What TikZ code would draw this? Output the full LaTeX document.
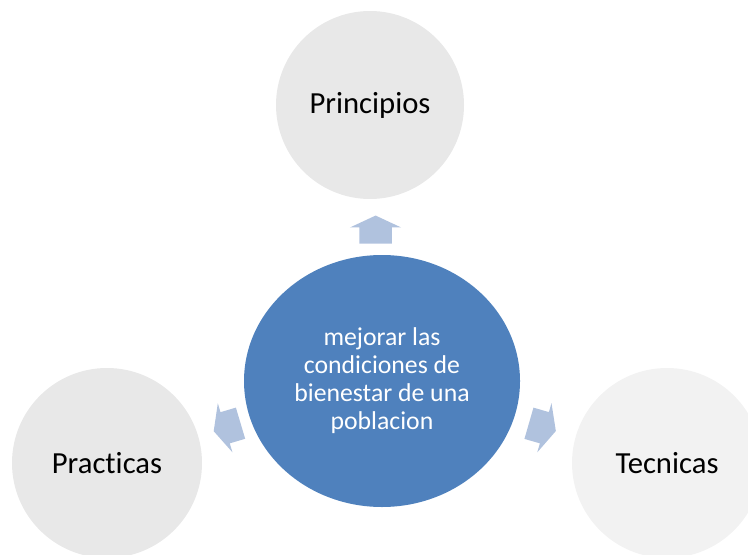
\documentclass[tikz,border=0pt]{standalone}
\usepackage{fontspec}
\setmainfont[Ligatures=NoCommon]{Carlito}
\usepackage{xcolor}
\usetikzlibrary{calc,shapes.arrows,shapes.geometric}

\definecolor{azulcentro}{HTML}{4F81BD}
\definecolor{grisclaro}{HTML}{E8E8E8}
\definecolor{grismuyclaro}{HTML}{F2F2F2}
\definecolor{azulflecha}{HTML}{B0C2DE}

\begin{document}
\begin{tikzpicture}[x=0.75pt,y=0.75pt,
  bola/.style={circle, fill=grisclaro, inner sep=0pt, minimum size=141pt,
    font=\fontsize{23}{27}\selectfont, text=black},
  flecha/.style={single arrow, fill=azulflecha, inner xsep=0pt, inner ysep=12pt,
    minimum height=21pt, single arrow head extend=7pt, single arrow tip angle=130}]
\useasboundingbox (0,0) rectangle (748,554);
\clip (0,0) rectangle (748,554);

\node[ellipse, fill=azulcentro, inner sep=0pt, minimum width=207pt, minimum height=189pt,
  text=white, align=center, font=\fontsize{19.3}{21}\selectfont] (centro) at (382,173)
  {mejorar las\\condiciones de\\bienestar de una\\poblacion};

\node[bola] (arriba) at (370,449) {Principios};
\node[bola, minimum size=142.5pt] (izq) at (107,91) {Practicas};
\node[bola, minimum size=142.5pt, fill=grismuyclaro] (der) at (667,91) {Tecnicas};

%flechas hacia afuera
\node[flecha, rotate=90] (f1) at ($(centro)!0.535!(arriba)$) {};
\node[flecha, rotate=196.6] (f2) at ($(centro)!0.55!(izq)$) {};
\node[flecha, rotate=-16.1] (f3) at ($(centro)!0.55!(der)$) {};
\end{tikzpicture}
\end{document}
